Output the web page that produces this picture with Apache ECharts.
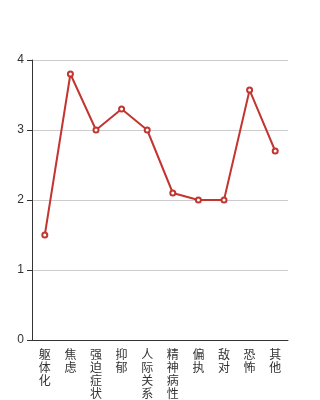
<!DOCTYPE html>
<html><head><meta charset="utf-8">
<script src="https://cdn.jsdelivr.net/npm/echarts@6/dist/echarts.min.js"></script>
<style>html,body{margin:0;padding:0;background:#fff}#c{width:320px;height:400px}</style>
</head><body><div id="c"></div>
<script>
const categories = ['躯体化','焦虑','强迫症状','抑郁','人际关系敏感','精神病性','偏执','敌对','恐怖','其他'];
const values = [1.5, 3.8, 3.0, 3.3, 3.0, 2.1, 2.0, 2.0, 3.57, 2.7];
const chart = echarts.init(document.getElementById('c'));
chart.setOption({
  animation: false,
  grid: {left: 32, right: 32, top: 60, bottom: 60, containLabel: false, outerBoundsMode: 'none'},
  xAxis: {
    type: 'category', data: categories, boundaryGap: true,
    axisLine: {lineStyle: {color: '#333'}},
    axisTick: {lineStyle: {color: '#333'}},
    axisLabel: {interval: 0, color: '#333', fontSize: 12, lineHeight: 13,
      fontFamily: 'Noto Sans CJK SC',
      formatter: v => v.split('').join('\n')}
  },
  yAxis: {
    type: 'value', min: 0, max: 4, interval: 1,
    axisLine: {show: true, lineStyle: {color: '#333'}},
    axisTick: {show: true, lineStyle: {color: '#333'}},
    axisLabel: {color: '#333', fontSize: 12},
    splitLine: {lineStyle: {color: '#ccc'}}
  },
  series: [{
    type: 'line', data: values,
    symbol: 'emptyCircle', symbolSize: 5,
    lineStyle: {color: '#c23531', width: 2},
    itemStyle: {color: '#c23531', borderWidth: 1}
  }]
});
</script></body></html>
